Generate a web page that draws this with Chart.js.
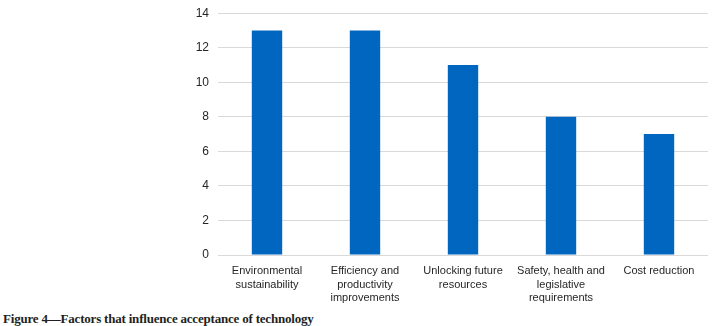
<!DOCTYPE html>
<html>
<head>
<meta charset="utf-8">
<script src="https://cdn.jsdelivr.net/npm/chart.js@4"></script>
<style>
    html, body { margin: 0; padding: 0; background: #fff; overflow: hidden; }
    #wrap { position: relative; width: 728px; height: 326px; overflow: hidden; }
    #box { position: absolute; left: 0; top: -3px; width: 728px; height: 309px; }
    #caption {
        position: absolute; left: 3px; top: 311px;
        font-family: "Liberation Serif", serif; font-weight: bold;
        font-size: 13px; line-height: 16px; letter-spacing: -0.2px; color: #231f20;
    }
</style>
</head>
<body>
<div id="wrap">
    <div id="box"><canvas id="chart"></canvas></div>
    <div id="caption">Figure 4—Factors that influence acceptance of technology</div>
</div>
<script>
// Factors and how many respondents named each
const factors = [
    ['Environmental', 'sustainability'],
    ['Efficiency and', 'productivity', 'improvements'],
    ['Unlocking future', 'resources'],
    ['Safety, health and', 'legislative', 'requirements'],
    ['Cost reduction']
];
const counts = [13, 13, 11, 8, 7];
const yTicks = [0, 2, 4, 6, 8, 10, 12, 14];

const ctx = document.getElementById('chart').getContext('2d');

new Chart(ctx, {
    type: 'bar',
    data: {
        labels: factors,
        datasets: [{
            data: counts,
            backgroundColor: '#0066bf',
            barPercentage: 0.31,
            categoryPercentage: 1
        }]
    },
    options: {
        responsive: true,
        maintainAspectRatio: false,
        animation: false,
        layout: { padding: { left: 0, right: 20, top: 0, bottom: 0 } },
        plugins: {
            legend: { display: false },
            tooltip: { enabled: false }
        },
        scales: {
            x: {
                grid: { display: false, drawTicks: false },
                border: { display: false },
                ticks: {
                    color: '#262626',
                    padding: 9,
                    maxRotation: 0,
                    autoSkip: false,
                    font: { family: 'Liberation Sans', size: 11, lineHeight: 1.25 }
                },
                afterFit: scale => { scale.height = 51; }
            },
            y: {
                min: 0,
                max: 14,
                afterBuildTicks: scale => {
                    scale.ticks = yTicks.map(v => ({ value: v }));
                },
                grid: { color: '#d9d9d9', drawTicks: false },
                border: { display: false },
                ticks: {
                    color: '#262626',
                    padding: 9,
                    font: { family: 'Liberation Sans', size: 12 }
                },
                afterFit: scale => { scale.width = 218; }
            }
        }
    }
});
</script>
</body>
</html>
